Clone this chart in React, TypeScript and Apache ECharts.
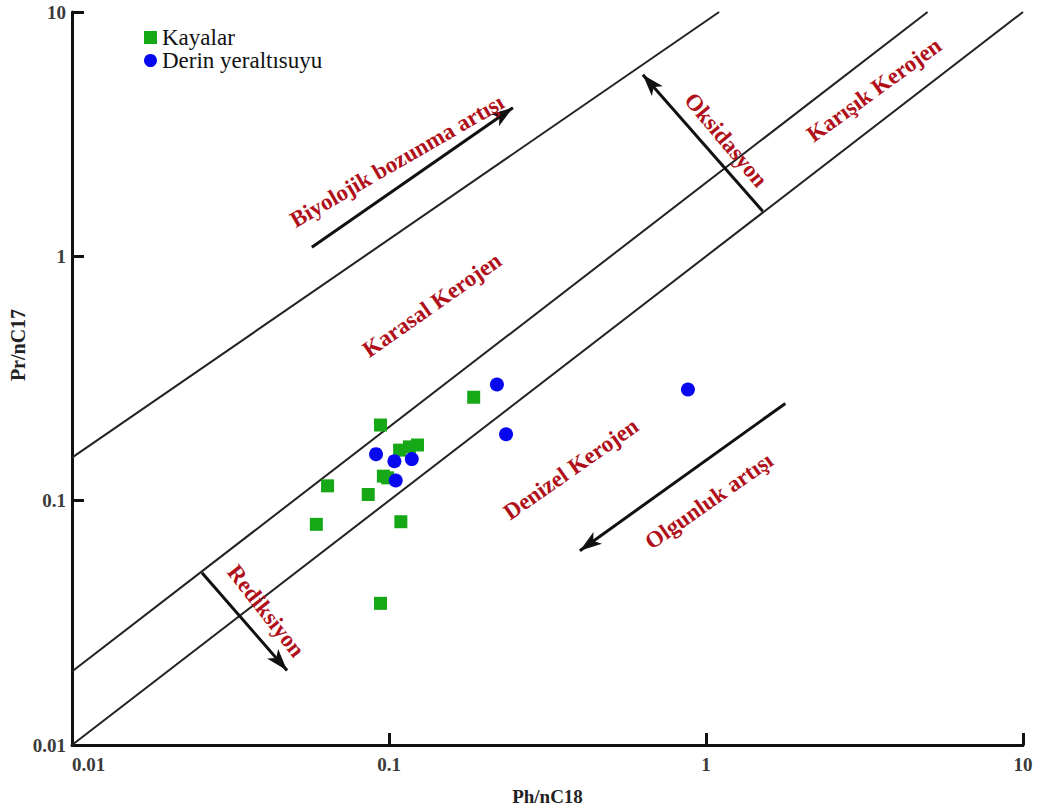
import React, { useEffect, useRef } from "react";
import * as echarts from "echarts";

// ---- data ----
const tickValues = [0.01, 0.1, 1, 10];
const tickLabels = ["0.01", "0.1", "1", "10"];

const kayalarX = [0.185, 0.094, 0.108, 0.116, 0.123, 0.096, 0.099, 0.064, 0.086, 0.059, 0.109, 0.094];
const kayalarY = [0.265, 0.204, 0.161, 0.166, 0.169, 0.126, 0.124, 0.115, 0.106, 0.080, 0.082, 0.038];

const derinX = [0.091, 0.104, 0.118, 0.105, 0.219, 0.234, 0.877];
const derinY = [0.155, 0.145, 0.148, 0.121, 0.299, 0.187, 0.285];

// boundary lines [x1, y1, x2, y2]
const boundaryUpper = [0.01, 0.15, 1.1, 10];
const boundaryMiddle = [0.01, 0.02, 5, 10];
const boundaryLower = [0.01, 0.01, 10, 10];

// arrows [xFrom, yFrom, xTo, yTo]
const arrowBiyolojik = [0.0571, 1.09, 0.246, 4.06];
const arrowOlgunluk = [1.78, 0.25, 0.4, 0.0624];
const arrowOksidasyon = [1.51, 1.53, 0.632, 5.54];
const arrowRediksiyon = [0.0257, 0.0507, 0.0477, 0.0202];

const legendNames = ["Kayalar", "Derin yeraltısuyu"];

const annotations = [
  { text: "Biyolojik bozunma artışı", x: 397, y: 161, angle: 30 },
  { text: "Karasal Kerojen", x: 432, y: 305, angle: 35 },
  { text: "Karışık Kerojen", x: 874, y: 90, angle: 36 },
  { text: "Oksidasyon", x: 726, y: 140, angle: -50 },
  { text: "Denizel Kerojen", x: 571, y: 469, angle: 35 },
  { text: "Olgunluk artışı", x: 709, y: 501, angle: 35 },
  { text: "Rediksiyon", x: 266, y: 611, angle: -52 },
];

const SERIF = "Liberation Serif, serif";
const RED = "#b0101a";

function fmt(v: number) {
  const i = tickValues.findIndex((t) => Math.abs(Math.log10(t) - Math.log10(v)) < 1e-6);
  return i >= 0 ? tickLabels[i] : "";
}

function seg(a: number[]) {
  return [
    [a[0], a[1]],
    [a[2], a[3]],
  ];
}

function arrowMark(a: number[]) {
  return [{ coord: [a[0], a[1]] }, { coord: [a[2], a[3]] }];
}

export default function App() {
  const ref = useRef<HTMLDivElement>(null);
  useEffect(() => {
    if (!ref.current) return;
    const chart = echarts.init(ref.current, null, { renderer: "svg" });
    const axisCommon = {
      type: "log" as const,
      logBase: 10,
      min: 0.01,
      max: 10,
      axisLine: { show: true, lineStyle: { color: "#111", width: 3 } },
      axisTick: { show: true, inside: true, length: 12, lineStyle: { color: "#111", width: 3 } },
      minorTick: { show: false },
      splitLine: { show: false },
      axisLabel: {
        formatter: fmt,
        fontFamily: SERIF,
        fontWeight: "bold" as const,
        fontSize: 19,
        color: "#3a3a3a",
      },
    };
    const lineStyle = { color: "#222", width: 2 };
    const boundary = (name: string, a: number[]) => ({
      name,
      type: "line",
      data: seg(a),
      showSymbol: false,
      symbol: "none",
      silent: true,
      lineStyle,
      z: 1,
    });
    chart.setOption({
      animation: false,
      backgroundColor: "#fff",
      textStyle: { fontFamily: SERIF },
      grid: { left: 72, top: 12, right: 14, bottom: 63 },
      legend: {
        data: legendNames,
        orient: "vertical",
        left: 139,
        top: 21,
        itemWidth: 13,
        itemHeight: 13,
        itemGap: 0,
        textStyle: { fontFamily: SERIF, fontSize: 23, color: "#111" },
      },
      xAxis: {
        ...axisCommon,
        axisLabel: { ...axisCommon.axisLabel, margin: 10, alignMinLabel: "left" },
        name: "Ph/nC18",
        nameLocation: "middle",
        nameGap: 42,
        nameTextStyle: { fontFamily: SERIF, fontWeight: "bold", fontSize: 19, color: "#222" },
      },
      yAxis: {
        ...axisCommon,
        axisLabel: { ...axisCommon.axisLabel, margin: 6 },
      },
      graphic: [
        {
          type: "text",
          x: 18,
          y: 345,
          rotation: Math.PI / 2,
          style: {
            text: "Pr/nC17",
            fontFamily: SERIF,
            fontWeight: "bold",
            fontSize: 20,
            fill: "#222",
            align: "center",
            verticalAlign: "middle",
          },
        },
        ...annotations.map((a) => ({
          type: "text",
          x: a.x,
          y: a.y,
          rotation: (a.angle * Math.PI) / 180,
          z: 10,
          style: {
            text: a.text,
            fontFamily: SERIF,
            fontWeight: "bold",
            fontSize: 23,
            fill: RED,
            align: "center",
            verticalAlign: "middle",
          },
        })),
      ],
      series: [
        boundary("upper", boundaryUpper),
        boundary("middle", boundaryMiddle),
        {
          ...boundary("lower", boundaryLower),
          markLine: {
            silent: true,
            symbol: ["none", "arrow"],
            symbolSize: [11, 22],
            label: { show: false },
            lineStyle: { color: "#111", width: 3, type: "solid" },
            emphasis: { disabled: true },
            data: [
              arrowMark(arrowBiyolojik),
              arrowMark(arrowOlgunluk),
              arrowMark(arrowOksidasyon),
              arrowMark(arrowRediksiyon),
            ],
          },
        },
        {
          name: "Kayalar",
          type: "scatter",
          symbol: "rect",
          symbolSize: 13,
          itemStyle: { color: "#17a817", opacity: 1 },
          data: kayalarX.map((x, i) => [x, kayalarY[i]]),
          z: 3,
        },
        {
          name: "Derin yeraltısuyu",
          type: "scatter",
          symbol: "circle",
          symbolSize: 14,
          itemStyle: { color: "#0808f0", opacity: 1 },
          data: derinX.map((x, i) => [x, derinY[i]]),
          z: 4,
        },
      ],
    });
    return () => chart.dispose();
  }, []);
  return (
    <div
      ref={ref}
      style={{ position: "fixed", left: 0, top: 0, width: 1037, height: 811, background: "#fff" }}
    />
  );
}
